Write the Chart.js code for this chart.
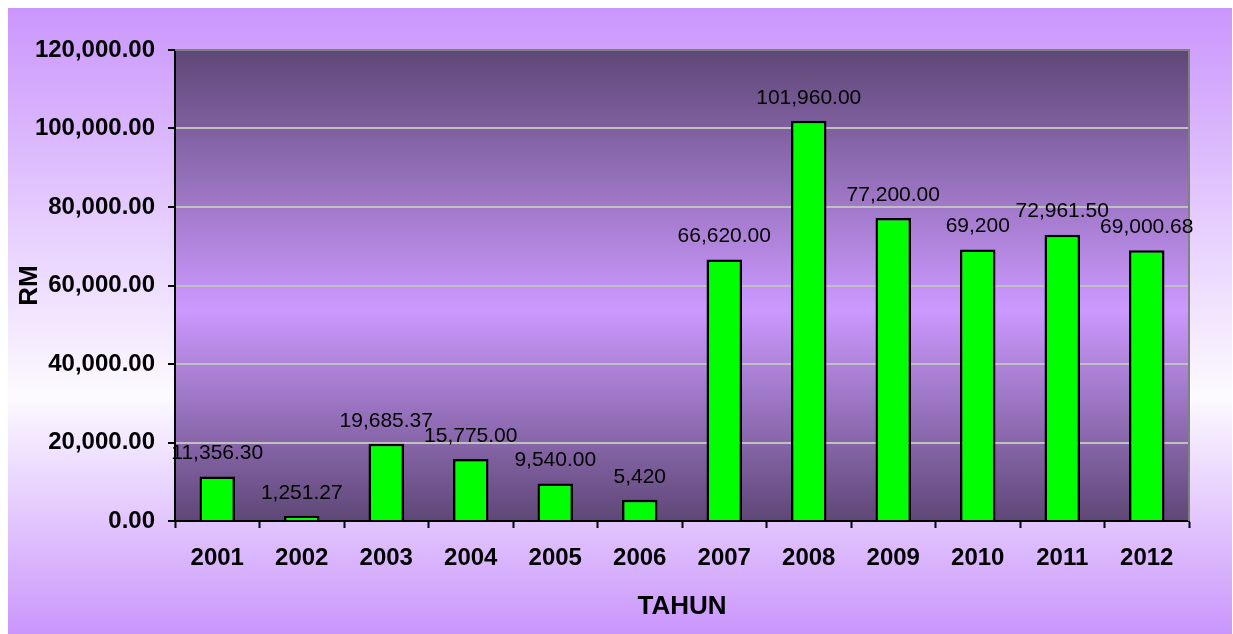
<!DOCTYPE html>
<html>
<head>
<meta charset="utf-8">
<script src="https://cdn.jsdelivr.net/npm/chart.js@4/dist/chart.umd.min.js"></script>
<style>
  html, body { margin: 0; padding: 0; background: #ffffff; }
  #wrap { position: absolute; left: 8px; top: 8px; width: 1224px; height: 626px; }
</style>
</head>
<body>
<div id="wrap"><canvas id="chart"></canvas></div>
<script>
  // ── Data ──────────────────────────────────────────────────
  const years = ['2001', '2002', '2003', '2004', '2005', '2006', '2007', '2008', '2009', '2010', '2011', '2012'];
  const amounts = [11356.30, 1251.27, 19685.37, 15775.00, 9540.00, 5420, 66620.00, 101960.00, 77200.00, 69200, 72961.50, 69000.68];
  const amountLabels = ['11,356.30', '1,251.27', '19,685.37', '15,775.00', '9,540.00', '5,420', '66,620.00', '101,960.00', '77,200.00', '69,200', '72,961.50', '69,000.68'];
  const yTicks = [0, 20000, 40000, 60000, 80000, 100000, 120000];

  const FONT = '"Liberation Sans", Arial, sans-serif';

  function money(v) {
    return Number(v).toLocaleString('en-US', { minimumFractionDigits: 2, maximumFractionDigits: 2 });
  }

  // ── Backgrounds + borders ─────────────────────────────────
  const backdrop = {
    id: 'backdrop',
    beforeDraw(chart) {
      const { ctx, width, height, chartArea: a } = chart;
      ctx.save();
      let g = ctx.createLinearGradient(0, 0, 0, height);
      g.addColorStop(0, '#ca96fc');
      g.addColorStop(0.62, '#fcfaff');
      g.addColorStop(1, '#ca96fc');
      ctx.fillStyle = g;
      ctx.fillRect(0, 0, width, height);

      g = ctx.createLinearGradient(0, a.top, 0, a.bottom);
      g.addColorStop(0, '#5e4776');
      g.addColorStop(0.55, '#cc99ff');
      g.addColorStop(1, '#5e4776');
      ctx.fillStyle = g;
      ctx.fillRect(a.left, a.top, a.right - a.left, a.bottom - a.top);
      ctx.restore();
    },
    afterDatasetsDraw(chart) {
      const { ctx, chartArea: a } = chart;
      ctx.save();
      ctx.strokeStyle = '#808080';
      ctx.lineWidth = 2;
      ctx.beginPath();
      ctx.moveTo(a.left, a.top);
      ctx.lineTo(a.right, a.top);
      ctx.lineTo(a.right, a.bottom);
      ctx.stroke();
      ctx.restore();
    }
  };

  // ── Value labels over bars ────────────────────────────────
  const valueLabels = {
    id: 'valueLabels',
    afterDatasetsDraw(chart) {
      const { ctx } = chart;
      const meta = chart.getDatasetMeta(0);
      ctx.save();
      ctx.fillStyle = '#000000';
      ctx.font = '21px ' + FONT;
      ctx.textAlign = 'center';
      ctx.textBaseline = 'middle';
      meta.data.forEach(function (bar, i) {
        ctx.fillText(amountLabels[i], bar.x, bar.y - 23);
      });
      ctx.restore();
    }
  };

  new Chart(document.getElementById('chart'), {
    type: 'bar',
    data: {
      labels: years,
      datasets: [{
        data: amounts,
        backgroundColor: '#00ff00',
        borderColor: '#000000',
        borderWidth: 2.5,
        categoryPercentage: 1,
        barPercentage: 0.42,
      }],
    },
    options: {
      responsive: true,
      maintainAspectRatio: false,
      animation: false,
      layout: { padding: { top: 42, right: 43, left: 0, bottom: 0 } },
      plugins: {
        legend: { display: false },
        tooltip: { enabled: false },
      },
      scales: {
        x: {
          afterFit: function (s) { s.height = 113; },
          grid: { drawOnChartArea: false, drawTicks: true, tickLength: 7, tickColor: '#000000', tickWidth: 2, offset: true },
          border: { color: '#000000', width: 2 },
          ticks: { color: '#000000', padding: 16, font: { family: FONT, size: 24, weight: 'bold' } },
          title: { display: true, text: 'TAHUN', color: '#000000', padding: { bottom: 12 }, font: { family: FONT, size: 26, weight: 'bold' } },
        },
        y: {
          min: 0,
          max: 120000,
          afterFit: function (s) { s.width = 167; },
          afterBuildTicks: function (s) { s.ticks = yTicks.map(function (v) { return { value: v }; }); },
          grid: {
            color: '#c0c0c0',
            lineWidth: 2,
            drawTicks: true,
            tickLength: 7,
            tickColor: '#000000',
            tickWidth: 2,
          },
          border: { color: '#000000', width: 2 },
          ticks: {
            color: '#000000',
            padding: 13,
            font: { family: FONT, size: 24, weight: 'bold' },
            callback: function (v) { return money(v); },
          },
          title: { display: true, text: 'RM', color: '#000000', padding: { top: 6 }, font: { family: FONT, size: 26, weight: 'bold' } },
        },
      },
    },
    plugins: [backdrop, valueLabels],
  });
</script>
</body>
</html>
